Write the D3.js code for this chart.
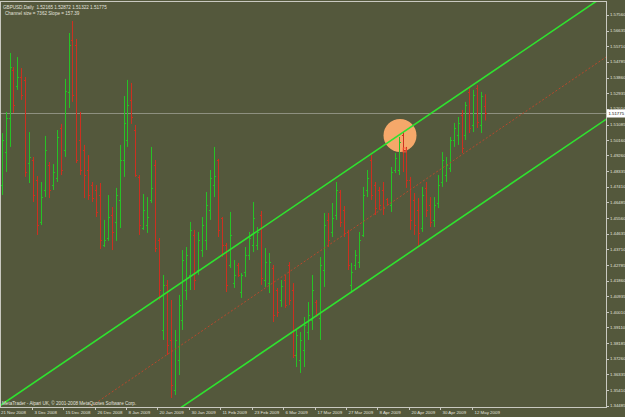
<!DOCTYPE html>
<html><head><meta charset="utf-8">
<script src="https://cdn.jsdelivr.net/npm/d3@7/dist/d3.min.js"></script>
<style>html,body{margin:0;padding:0;background:#54583c;overflow:hidden}svg{display:block}</style>
</head><body><svg id="c" width="625" height="417"></svg>
<script>
const symbol = "GBPUSD,Daily";
const lastQuote = [1.52165, 1.52872, 1.51322, 1.51775];
const channelText = "Channel size = 7362 Slope = 157.39";
const footerText = "MetaTrader - Alpari UK, \u00a9 2001-2008 MetaQuotes Software Corp.";

const opens = [1.4751,1.4946,1.5147,1.5431,1.5336,1.5389,1.5372,1.4881,1.4899,1.4781,1.4533,1.4722,1.4869,1.4751,1.4793,1.5088,1.4958,1.5301,1.5608,1.5578,1.5017,1.4958,1.4840,1.4751,1.4722,1.4692,1.4397,1.4438,1.4574,1.4533,1.4663,1.4899,1.5017,1.5254,1.5076,1.4799,1.4497,1.4515,1.4663,1.4869,1.4426,1.3895,1.4161,1.3836,1.3540,1.3718,1.3954,1.4131,1.4220,1.4456,1.4249,1.4367,1.4426,1.4604,1.4751,1.4899,1.4556,1.4397,1.4279,1.4172,1.4279,1.4119,1.4237,1.4338,1.4397,1.4397,1.4574,1.4190,1.4172,1.4261,1.4131,1.4072,1.4190,1.4279,1.4131,1.3747,1.3718,1.3777,1.3883,1.3954,1.4060,1.3966,1.4249,1.4545,1.4474,1.4574,1.4710,1.4604,1.4474,1.4161,1.4279,1.4296,1.4456,1.4722,1.4899,1.4751,1.4722,1.4722,1.4669,1.4633,1.4840,1.4840,1.5047,1.4958,1.4781,1.4663,1.4604,1.4497,1.4734,1.4633,1.4545,1.4645,1.4769,1.4810,1.4852,1.5017,1.5047,1.5165,1.5047,1.5301,1.5106,1.5324,1.5106,1.52165];
const highs = [1.5058,1.5183,1.5531,1.5448,1.5507,1.5442,1.5389,1.5064,1.4917,1.4804,1.4769,1.5041,1.4887,1.4875,1.5076,1.5112,1.5378,1.5649,1.5720,1.5614,1.5183,1.4988,1.4928,1.4769,1.4751,1.4763,1.4545,1.4692,1.4621,1.4734,1.4988,1.5277,1.5372,1.5354,1.5106,1.4810,1.4698,1.4680,1.4976,1.4899,1.4438,1.4220,1.4190,1.4072,1.3895,1.4102,1.4367,1.4385,1.4533,1.4486,1.4474,1.4562,1.4710,1.4840,1.4976,1.4905,1.4562,1.4409,1.4592,1.4308,1.4291,1.4231,1.4385,1.4474,1.4651,1.4503,1.4598,1.4379,1.4350,1.4279,1.4143,1.4190,1.4220,1.4296,1.4172,1.3895,1.3883,1.3972,1.4060,1.4220,1.4072,1.4326,1.4586,1.4586,1.4645,1.4769,1.4722,1.4627,1.4486,1.4291,1.4367,1.4474,1.4740,1.4840,1.4928,1.4769,1.4740,1.4769,1.4674,1.4858,1.4940,1.5035,1.5064,1.4976,1.4799,1.4704,1.4674,1.4740,1.4769,1.4680,1.4680,1.4810,1.4946,1.4917,1.5035,1.5118,1.5153,1.5194,1.5242,1.5324,1.5313,1.5342,1.5301,1.52872];
const lows = [1.4692,1.4828,1.4976,1.5177,1.5313,1.5254,1.4799,1.4763,1.4651,1.4456,1.4515,1.4680,1.4674,1.4722,1.4769,1.4810,1.4917,1.5206,1.5242,1.4881,1.4810,1.4674,1.4663,1.4651,1.4562,1.4373,1.4385,1.4421,1.4367,1.4421,1.4497,1.4799,1.4976,1.5112,1.4799,1.4456,1.4486,1.4468,1.4645,1.4355,1.4072,1.3836,1.3747,1.3493,1.3511,1.3629,1.3895,1.4072,1.4131,1.4131,1.4220,1.4326,1.4367,1.4545,1.4680,1.4444,1.4326,1.4119,1.4261,1.4143,1.4208,1.4084,1.4208,1.4308,1.4355,1.4367,1.4161,1.4149,1.4113,1.3942,1.3972,1.4031,1.4025,1.4042,1.3729,1.3676,1.3641,1.3676,1.3836,1.3895,1.3972,1.3836,1.4149,1.4385,1.4444,1.4545,1.4503,1.4444,1.4249,1.4113,1.4249,1.4261,1.4444,1.4680,1.4663,1.4574,1.4604,1.4574,1.4633,1.4592,1.4822,1.4810,1.4828,1.4734,1.4486,1.4456,1.4385,1.4474,1.4562,1.4503,1.4503,1.4615,1.4740,1.4769,1.4828,1.4976,1.4988,1.4940,1.5017,1.5058,1.5064,1.5088,1.5058,1.51322];
const closes = [1.5017,1.5147,1.5448,1.5224,1.5389,1.5283,1.4828,1.4917,1.4692,1.4515,1.4680,1.4958,1.4722,1.4828,1.5035,1.4840,1.5307,1.5578,1.5283,1.4899,1.4840,1.4810,1.4692,1.4674,1.4592,1.4426,1.4426,1.4562,1.4474,1.4692,1.4899,1.5118,1.5224,1.5153,1.4810,1.4515,1.4604,1.4562,1.4734,1.4379,1.4131,1.4161,1.3806,1.3570,1.3836,1.4042,1.4308,1.4338,1.4486,1.4190,1.4426,1.4515,1.4633,1.4793,1.4804,1.4486,1.4397,1.4161,1.4456,1.4220,1.4220,1.4220,1.4338,1.4438,1.4556,1.4474,1.4202,1.4296,1.4296,1.3983,1.4001,1.4155,1.4042,1.4072,1.3747,1.3865,1.3836,1.3924,1.3983,1.4131,1.3989,1.4279,1.4515,1.4426,1.4556,1.4722,1.4533,1.4468,1.4279,1.4237,1.4338,1.4426,1.4692,1.4793,1.4692,1.4615,1.4633,1.4615,1.4639,1.4828,1.4911,1.5005,1.4958,1.4781,1.4545,1.4515,1.4468,1.4692,1.4604,1.4533,1.4633,1.4751,1.4899,1.4869,1.5017,1.5088,1.5118,1.4970,1.5224,1.5088,1.5283,1.5123,1.5277,1.51775];

const dateLabels = ["21 Nov 2008","3 Dec 2008","15 Dec 2008","26 Dec 2008","8 Jan 2009","20 Jan 2009","30 Jan 2009","11 Feb 2009","23 Feb 2009","6 Mar 2009","17 Mar 2009","27 Mar 2009","8 Apr 2009","20 Apr 2009","30 Apr 2009","12 May 2009"];
const dateLabelBars = [0,8,16,24,32,40,48,56,64,72,80,88,96,104,112,120];
const priceLabels = ["1.57560","1.56635","1.55710","1.54785","1.53860","1.52935","1.52010","1.51085","1.50160","1.49260","1.48335","1.47410","1.46485","1.45560","1.44635","1.43710","1.42785","1.41860","1.40935","1.40010","1.39110","1.38185","1.37260","1.36335","1.35410","1.34485"];

const channelAnchorBar = 50;
const channelAnchorUpper = 1.4242;
const channelSlopePerBar = 0.0015739;
const channelSize = 0.07362;
const markBar = 101.35, markPrice = 1.5044;
const selBar = 102.5, selPrice = 1.4958;

const W = 625, H = 417;
const plot = {left: 1, top: 2, right: 606, bottom: 407};

const svg = d3.select("#c");
const x = d3.scaleLinear().domain([0, opens.length - 1]).range([1.7, 1.7 + 3.93 * (opens.length - 1)]);
const y = d3.scaleLinear().domain([1.35410, 1.55710]).range([389.9, 46.2]);

svg.append("rect").attr("width", W).attr("height", H).attr("fill", "#54583c");

svg.append("defs").append("clipPath").attr("id", "pc")
  .append("rect").attr("x", plot.left).attr("y", plot.top)
  .attr("width", plot.right - plot.left).attr("height", plot.bottom - plot.top);

const g = svg.append("g").attr("clip-path", "url(#pc)");

g.append("circle").attr("cx", x(markBar)).attr("cy", y(markPrice)).attr("r", 16.5)
  .attr("fill", "#f5a86a");

const bidY = Math.round(y(lastQuote[3])) + 0.5;
g.append("line").attr("x1", plot.left).attr("x2", plot.right).attr("y1", bidY).attr("y2", bidY)
  .attr("stroke", "#8e9080").attr("stroke-width", 1);

const bars = d3.range(opens.length).map(i => ({i, o: opens[i], h: highs[i], l: lows[i], c: closes[i]}));
const bg = g.append("g");
bars.forEach(d => {
  const cx = Math.round(x(d.i)) + 0.5;
  const col = d.c >= d.o ? "#26c226" : "#cc3020";
  const gg = bg.append("g").attr("stroke", col).attr("stroke-width", 1);
  gg.append("line").attr("x1", cx).attr("x2", cx).attr("y1", y(d.h)).attr("y2", y(d.l));
  const yo = Math.round(y(d.o)) + 0.5, yc = Math.round(y(d.c)) + 0.5;
  gg.append("line").attr("x1", cx - 1.5).attr("x2", cx).attr("y1", yo).attr("y2", yo);
  gg.append("line").attr("x1", cx).attr("x2", cx + 1.5).attr("y1", yc).attr("y2", yc);
});

g.append("rect").attr("x", x(selBar) - 1.5).attr("y", y(selPrice) - 2).attr("width", 3).attr("height", 4)
  .attr("fill", "none").attr("stroke", "#ff5a3a").attr("stroke-width", 0.8);

const b0 = -20, b1 = 170;
function chan(off) {
  return [[b0, channelAnchorUpper - off + channelSlopePerBar * (b0 - channelAnchorBar)],
          [b1, channelAnchorUpper - off + channelSlopePerBar * (b1 - channelAnchorBar)]];
}
const line = d3.line().x(d => x(d[0])).y(d => y(d[1]));
g.append("path").attr("d", line(chan(channelSize / 2))).attr("fill", "none")
  .attr("stroke", "#b8482c").attr("stroke-width", 1).attr("stroke-dasharray", "2,2");
g.append("path").attr("d", line(chan(0))).attr("fill", "none").attr("stroke", "#2fe22f").attr("stroke-width", 1.6);
g.append("path").attr("d", line(chan(channelSize))).attr("fill", "none").attr("stroke", "#2fe22f").attr("stroke-width", 1.6);

const frameCol = "#c9c9c0";
svg.append("line").attr("x1", 0.5).attr("x2", 0.5).attr("y1", 1).attr("y2", plot.bottom).attr("stroke", frameCol);
svg.append("line").attr("x1", 0).attr("x2", plot.right).attr("y1", 1.5).attr("y2", 1.5).attr("stroke", frameCol);
svg.append("line").attr("x1", plot.right + 0.5).attr("x2", plot.right + 0.5).attr("y1", 1).attr("y2", plot.bottom + 0.5).attr("stroke", frameCol);
svg.append("line").attr("x1", 0).attr("x2", plot.right + 1).attr("y1", plot.bottom + 0.5).attr("y2", plot.bottom + 0.5).attr("stroke", frameCol);

const font = "'Liberation Sans', Arial, sans-serif";
const txtCol = "#e2e2dc";

const pa = svg.append("g");
priceLabels.forEach(s => {
  const v = +s;
  const yy = Math.min(y(v), plot.bottom);
  pa.append("line").attr("x1", plot.right + 1).attr("x2", plot.right + 3).attr("y1", Math.round(yy) + 0.5).attr("y2", Math.round(yy) + 0.5).attr("stroke", frameCol);
  pa.append("text").attr("x", plot.right + 4).attr("y", yy + 1.6).text(s)
    .attr("font-family", font).attr("font-size", 4.3).attr("fill", txtCol);
});
pa.append("rect").attr("x", plot.right + 1).attr("y", bidY - 4).attr("width", 19).attr("height", 8).attr("fill", "#ffffff");
pa.append("text").attr("x", plot.right + 2.5).attr("y", bidY + 1.6).text(d3.format(".5f")(lastQuote[3]))
  .attr("font-family", font).attr("font-size", 4.3).attr("fill", "#000");

const da = svg.append("g");
dateLabels.forEach((s, k) => {
  const tx = Math.round(x(dateLabelBars[k]) - 1.5) + 0.5;
  if (k > 0) da.append("line").attr("x1", tx).attr("x2", tx).attr("y1", plot.bottom).attr("y2", plot.bottom + 3).attr("stroke", frameCol);
  da.append("text").attr("x", k > 0 ? tx + 2 : 1).attr("y", 414).text(s)
    .attr("font-family", font).attr("font-size", 4.4).attr("fill", txtCol);
});

svg.append("text").attr("x", 3).attr("y", 8.5)
  .text(symbol + "  " + lastQuote.map(d3.format(".5f")).join(" "))
  .attr("font-family", font).attr("font-size", 4.6).attr("fill", txtCol).style("white-space", "pre");
svg.append("text").attr("x", 5).attr("y", 14.5).text(channelText)
  .attr("font-family", font).attr("font-size", 4.6).attr("fill", txtCol);
svg.append("text").attr("x", 2).attr("y", 404.5).text(footerText)
  .attr("font-family", font).attr("font-size", 4.6).attr("fill", txtCol);
</script></body></html>
